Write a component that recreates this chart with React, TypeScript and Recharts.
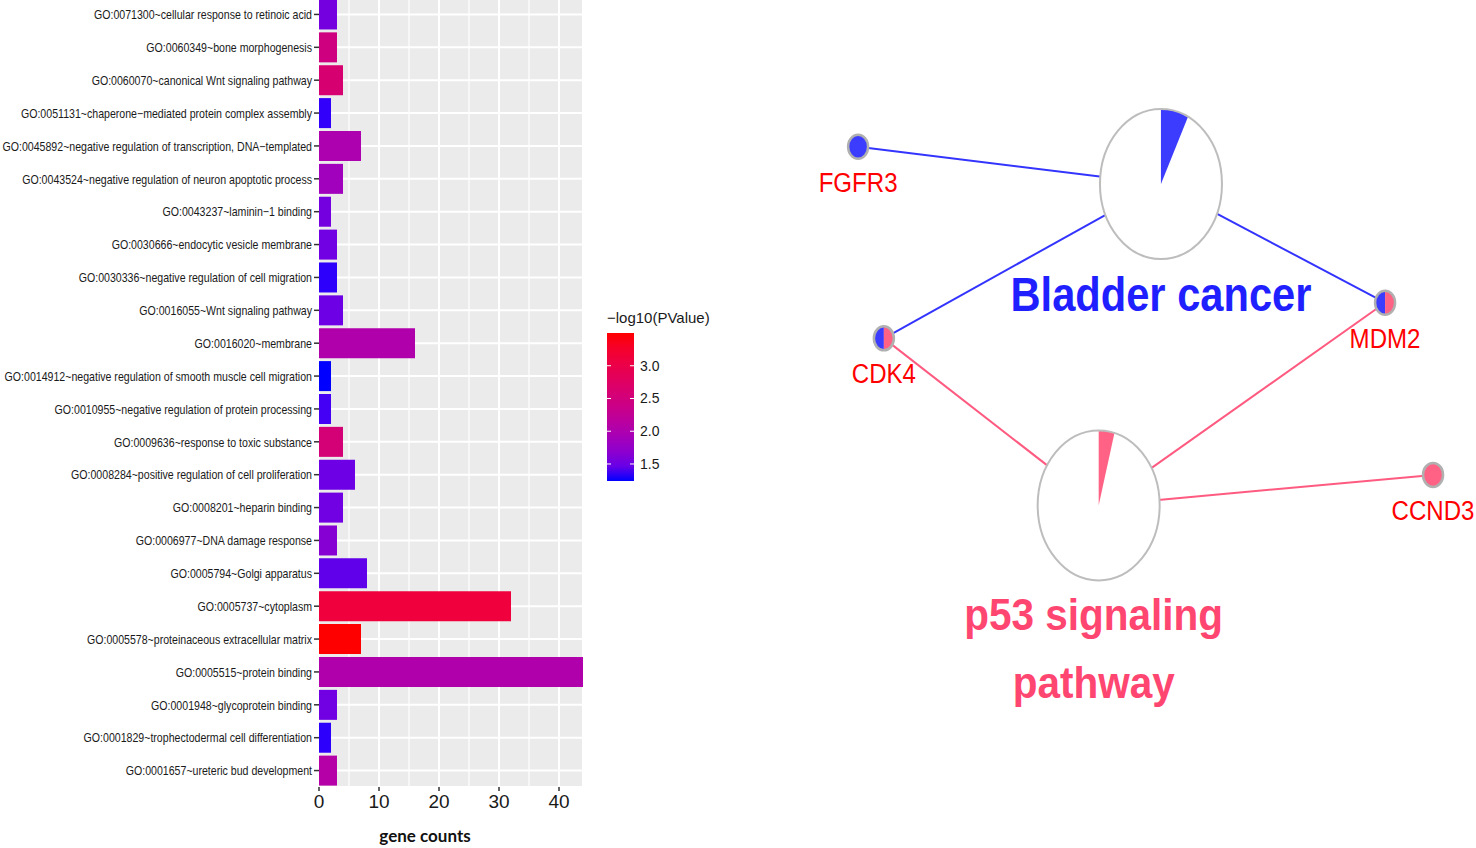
import React from "react";
import { BarChart, Bar, Cell, XAxis, YAxis, CartesianGrid, ScatterChart, Scatter } from "recharts";

const FONT = '"Liberation Sans", Arial, sans-serif';

// ---- GO enrichment bars ----
const goTerms = [
  "GO:0071300~cellular response to retinoic acid",
  "GO:0060349~bone morphogenesis",
  "GO:0060070~canonical Wnt signaling pathway",
  "GO:0051131~chaperone\u2212mediated protein complex assembly",
  "GO:0045892~negative regulation of transcription, DNA\u2212templated",
  "GO:0043524~negative regulation of neuron apoptotic process",
  "GO:0043237~laminin\u22121 binding",
  "GO:0030666~endocytic vesicle membrane",
  "GO:0030336~negative regulation of cell migration",
  "GO:0016055~Wnt signaling pathway",
  "GO:0016020~membrane",
  "GO:0014912~negative regulation of smooth muscle cell migration",
  "GO:0010955~negative regulation of protein processing",
  "GO:0009636~response to toxic substance",
  "GO:0008284~positive regulation of cell proliferation",
  "GO:0008201~heparin binding",
  "GO:0006977~DNA damage response",
  "GO:0005794~Golgi apparatus",
  "GO:0005737~cytoplasm",
  "GO:0005578~proteinaceous extracellular matrix",
  "GO:0005515~protein binding",
  "GO:0001948~glycoprotein binding",
  "GO:0001829~trophectodermal cell differentiation",
  "GO:0001657~ureteric bud development",
];
const geneCounts = [3, 3, 4, 2, 7, 4, 2, 3, 3, 4, 16, 2, 2, 4, 6, 4, 3, 8, 32, 7, 44, 3, 2, 3];
const negLog10P = [
  1.53, 2.45, 2.6, 1.29, 1.99, 1.87, 1.53, 1.51, 1.28, 1.49, 2.03, 1.24,
  1.33, 2.55, 1.49, 1.51, 1.65, 1.43, 3.12, 3.5, 2.03, 1.51, 1.28, 2.08,
];
const xTicks = [0, 10, 20, 30, 40];
const minorTicks = [5, 15, 25, 35];
const colorbarTicks = [1.5, 2.0, 2.5, 3.0];

// ---- pathway / gene network ----
const pathwayNames = ["Bladder cancer", "p53 signaling pathway"];
const pathwayLabelLines = [["Bladder cancer"], ["p53 signaling", "pathway"]];
const pathwayHits = [3, 3];
const pathwaySizes = [41, 72];
const pathwayX = [56.0, 47.3];
const pathwayY = [21.7, 59.6];

const geneNames = ["FGFR3", "CDK4", "MDM2", "CCND3"];
const geneX = [13.7, 17.3, 87.3, 94.0];
const geneY = [17.3, 39.9, 35.7, 56.0];
const genePathways = [[0], [0, 1], [0, 1], [1]];

const PATHWAY_FILL = ["#3c3cff", "#ff6284"];
const PATHWAY_EDGE = ["#3434ff", "#ff5a80"];
const PATHWAY_TEXT = ["#1f1fff", "#ff4670"];
const PATHWAY_FONT = [{ size: 49, sx: 0.85, dx: 0, dy: 127, lh: 0 }, { size: 45, sx: 0.9, dx: -5, dy: 125, lh: 68 }];

// ---- colour scale: ggplot-like blue -> red in Lab space ----
const toLin = (c: number) => {
  const v = c / 255;
  return v <= 0.04045 ? v / 12.92 : Math.pow((v + 0.055) / 1.055, 2.4);
};
const toSrgb = (c: number) => {
  const v = Math.max(0, Math.min(1, c));
  return Math.round(255 * (v <= 0.0031308 ? 12.92 * v : 1.055 * Math.pow(v, 1 / 2.4) - 0.055));
};
const f = (t: number) => (t > 0.008856 ? Math.cbrt(t) : 7.787 * t + 16 / 116);
const finv = (t: number) => (t * t * t > 0.008856 ? t * t * t : (t - 16 / 116) / 7.787);
const rgbToLab = (r: number, g: number, b: number) => {
  const R = toLin(r), G = toLin(g), B = toLin(b);
  const X = (0.4124 * R + 0.3576 * G + 0.1805 * B) / 0.95047;
  const Y = 0.2126 * R + 0.7152 * G + 0.0722 * B;
  const Z = (0.0193 * R + 0.1192 * G + 0.9505 * B) / 1.08883;
  const fx = f(X), fy = f(Y), fz = f(Z);
  return [116 * fy - 16, 500 * (fx - fy), 200 * (fy - fz)];
};
const labToHex = (L: number, a: number, b: number) => {
  const fy = (L + 16) / 116, fx = fy + a / 500, fz = fy - b / 200;
  const X = finv(fx) * 0.95047, Y = finv(fy), Z = finv(fz) * 1.08883;
  const r = toSrgb(3.2406 * X - 1.5372 * Y - 0.4986 * Z);
  const g = toSrgb(-0.9689 * X + 1.8758 * Y + 0.0415 * Z);
  const bb = toSrgb(0.0557 * X - 0.204 * Y + 1.057 * Z);
  return "#" + [r, g, bb].map((v) => v.toString(16).padStart(2, "0")).join("");
};
const LOW = rgbToLab(0, 0, 255);
const HIGH = rgbToLab(255, 0, 0);
const pMin = Math.min(...negLog10P);
const pMax = Math.max(...negLog10P);
const colorAt = (v: number) => {
  const t = (v - pMin) / (pMax - pMin);
  return labToHex(
    LOW[0] + (HIGH[0] - LOW[0]) * t,
    LOW[1] + (HIGH[1] - LOW[1]) * t,
    LOW[2] + (HIGH[2] - LOW[2]) * t
  );
};

const barRows = goTerms.map((term, i) => ({ term, count: geneCounts[i], p: negLog10P[i] }));

const pathwayRows = pathwayNames.map((name, i) => ({
  name, idx: i, x: pathwayX[i], y: pathwayY[i], hits: pathwayHits[i], size: pathwaySizes[i],
}));
const geneRows = geneNames.map((name, i) => ({ name, x: geneX[i], y: geneY[i], paths: genePathways[i] }));
const edgeRows = geneRows.flatMap((g) =>
  g.paths.map((p) => ({
    key: `${g.name}-${p}`,
    pathway: p,
    points: [{ x: g.x, y: g.y }, { x: pathwayX[p], y: pathwayY[p] }],
  }))
);

const GoTick = (props: any) => {
  const { x, y, payload } = props;
  return (
    <g transform={`translate(${x},${y})`}>
      <text transform="scale(0.855,1)" textAnchor="end" dy="0.38em" fontSize={12.4} fill="#1a1a1a" fontFamily={FONT}>
        {payload.value}
      </text>
    </g>
  );
};

const PathwayNode = (props: any) => {
  const { cx, cy, payload } = props;
  const rx = 61, ry = 75;
  const th = (2 * Math.PI * payload.hits) / payload.size;
  const ex = cx + rx * Math.sin(th), ey = cy - ry * Math.cos(th);
  const st = PATHWAY_FONT[payload.idx];
  const lines = pathwayLabelLines[payload.idx];
  return (
    <g>
      <ellipse cx={cx} cy={cy} rx={rx} ry={ry} fill="#fff" />
      <path d={`M${cx},${cy} L${cx},${cy - ry} A${rx},${ry} 0 ${th > Math.PI ? 1 : 0} 1 ${ex},${ey} Z`} fill={PATHWAY_FILL[payload.idx]} />
      <ellipse cx={cx} cy={cy} rx={rx} ry={ry} fill="none" stroke="#bdbdbd" strokeWidth={2} />
      {lines.map((ln: string, k: number) => (
        <text
          key={ln}
          transform={`translate(${cx + st.dx},${cy + st.dy + k * st.lh}) scale(${st.sx},1)`}
          textAnchor="middle"
          fontSize={st.size}
          fontWeight="bold"
          fill={PATHWAY_TEXT[payload.idx]}
          fontFamily={FONT}
        >
          {ln}
        </text>
      ))}
    </g>
  );
};

const GeneNode = (props: any) => {
  const { cx, cy, payload } = props;
  const rx = 10, ry = 12;
  const paths: number[] = payload.paths;
  return (
    <g>
      {paths.length === 1 ? (
        <ellipse cx={cx} cy={cy} rx={rx} ry={ry} fill={PATHWAY_FILL[paths[0]]} />
      ) : (
        <>
          <path d={`M${cx},${cy - ry} A${rx},${ry} 0 0 0 ${cx},${cy + ry} Z`} fill={PATHWAY_FILL[paths[0]]} />
          <path d={`M${cx},${cy - ry} A${rx},${ry} 0 0 1 ${cx},${cy + ry} Z`} fill={PATHWAY_FILL[paths[1]]} />
        </>
      )}
      <ellipse cx={cx} cy={cy} rx={rx} ry={ry} fill="none" stroke="#b0b0b0" strokeWidth={2.5} />
      <text
        transform={`translate(${cx},${cy + 45}) scale(0.86,1)`}
        textAnchor="middle"
        fontSize={28}
        fill="#ff0000"
        fontFamily={FONT}
      >
        {payload.name}
      </text>
    </g>
  );
};

const LEG = { x: 607, y: 333, w: 27, h: 148 };
const legY = (v: number) => LEG.y + LEG.h - ((v - pMin) / (pMax - pMin)) * LEG.h;
const gradStops = Array.from({ length: 11 }, (_, k) => k / 10);

export default function App() {
  return (
    <div style={{ position: "absolute", left: 0, top: 0, width: 1476, height: 848, background: "#fff", overflow: "hidden" }}>
      <div style={{ position: "absolute", left: 0, top: -2 }}>
        <BarChart
          width={600}
          height={850}
          data={barRows}
          layout="vertical"
          margin={{ top: 0, right: 17, bottom: 0, left: 0 }}
          barCategoryGap="4.5%"
        >
          <CartesianGrid fill="#ebebeb" stroke="#ffffff" strokeWidth={2} />
          <CartesianGrid horizontal={false} verticalValues={minorTicks} stroke="#ffffff" strokeWidth={1.2} />
          <XAxis
            type="number"
            domain={[0, 44]}
            ticks={xTicks}
            height={61}
            axisLine={false}
            tickSize={4}
            tickMargin={4}
            tickLine={{ stroke: "#333", strokeWidth: 1.5 }}
            tick={{ fontSize: 19, fill: "#1a1a1a", fontFamily: FONT }}
            label={{
              value: "gene counts",
              position: "insideBottom",
              offset: 6,
              dx: -26,
              style: { fontSize: 17, fontWeight: "bold", fill: "#111", fontFamily: "Lato, sans-serif" },
            }}
          />
          <YAxis
            type="category"
            dataKey="term"
            width={319}
            axisLine={false}
            tickSize={5}
            tickMargin={2}
            tickLine={{ stroke: "#333", strokeWidth: 1.5 }}
            tick={<GoTick />}
            interval={0}
          />
          <Bar dataKey="count" isAnimationActive={false}>
            {barRows.map((r) => (
              <Cell key={r.term} fill={colorAt(r.p)} />
            ))}
          </Bar>
        </BarChart>
      </div>

      <svg width={1476} height={848} style={{ position: "absolute", left: 0, top: 0, pointerEvents: "none" }}>
        <defs>
          <linearGradient id="pbar" x1="0" y1="0" x2="0" y2="1">
            {gradStops.map((s) => (
              <stop key={s} offset={s} stopColor={colorAt(pMax - s * (pMax - pMin))} />
            ))}
          </linearGradient>
        </defs>
        <text x={LEG.x} y={323} fontSize={15} fill="#1a1a1a" fontFamily={FONT}>
          {"\u2212log10(PValue)"}
        </text>
        <rect x={LEG.x} y={LEG.y} width={LEG.w} height={LEG.h} fill="url(#pbar)" />
        {colorbarTicks.map((v) => (
          <g key={v}>
            <line x1={LEG.x} x2={LEG.x + 4} y1={legY(v)} y2={legY(v)} stroke="#fff" strokeWidth={1} />
            <line x1={LEG.x + LEG.w - 4} x2={LEG.x + LEG.w} y1={legY(v)} y2={legY(v)} stroke="#fff" strokeWidth={1} />
            <text x={LEG.x + LEG.w + 6} y={legY(v)} dy="0.35em" fontSize={14} fill="#1a1a1a" fontFamily={FONT}>
              {v.toFixed(1)}
            </text>
          </g>
        ))}
      </svg>

      <div style={{ position: "absolute", left: 760, top: 0 }}>
        <ScatterChart width={716} height={848} margin={{ top: 0, right: 0, bottom: 0, left: 0 }}>
          <XAxis type="number" dataKey="x" domain={[0, 100]} hide />
          <YAxis type="number" dataKey="y" domain={[0, 100]} reversed hide />
          {edgeRows.map((e) => (
            <Scatter
              key={e.key}
              data={e.points}
              line={{ stroke: PATHWAY_EDGE[e.pathway], strokeWidth: 2 }}
              lineType="joint"
              shape={() => <g />}
              isAnimationActive={false}
            />
          ))}
          <Scatter data={pathwayRows} shape={<PathwayNode />} isAnimationActive={false} />
          <Scatter data={geneRows} shape={<GeneNode />} isAnimationActive={false} />
        </ScatterChart>
      </div>
    </div>
  );
}
